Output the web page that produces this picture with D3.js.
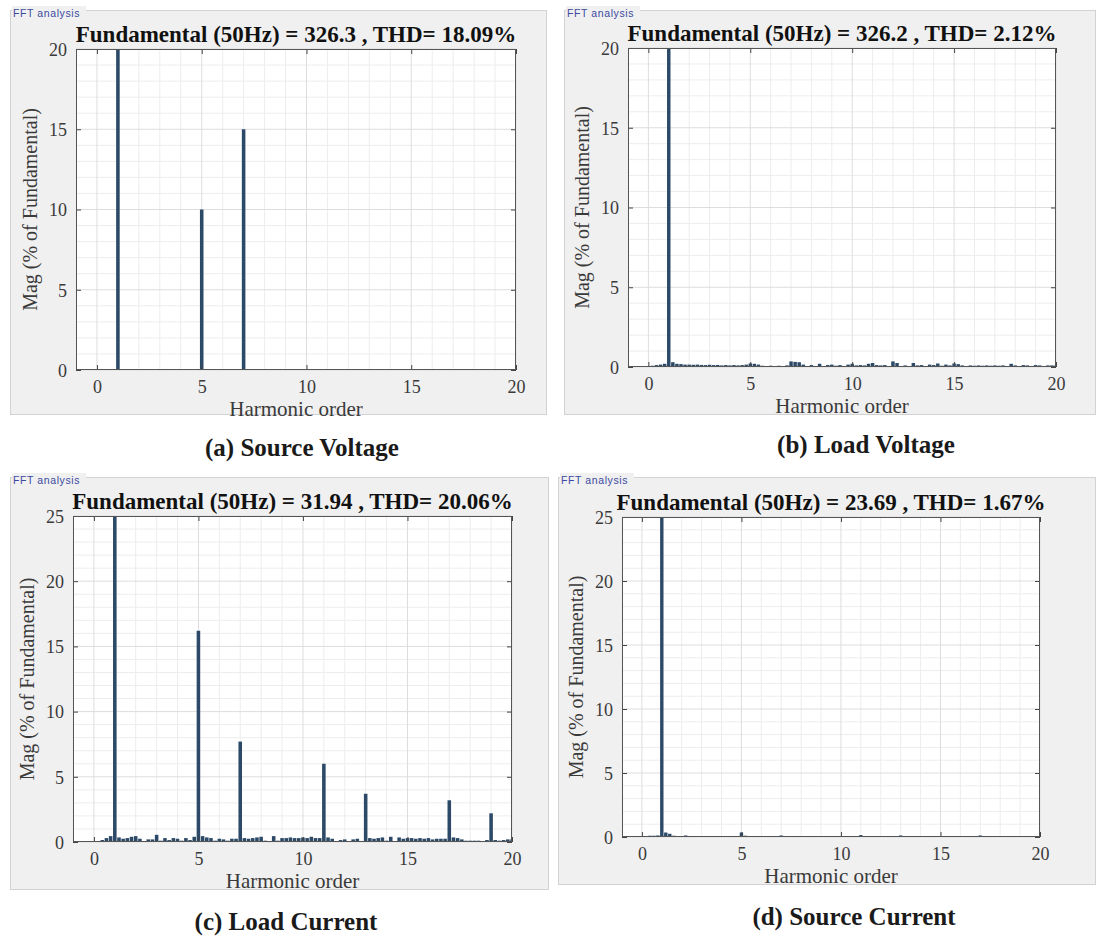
<!DOCTYPE html>
<html>
<head>
<meta charset="utf-8">
<script src="https://cdn.jsdelivr.net/npm/d3@7"></script>
<style>
  html, body { margin: 0; padding: 0; background: #ffffff; }
  svg { display: block; }
</style>
</head>
<body>
<svg id="chart" width="1096" height="936"></svg>
<script>
// ---------------- DATA ----------------
// FFT bins (harmonic order), resolution 0.2 (10 Hz bins for 50 Hz fundamental)
const harmonicBins = d3.range(0, 101).map(i => +(i * 0.2).toFixed(1));
const xTickLabels = [0, 5, 10, 15, 20];

const titles = [
  "Fundamental (50Hz) = 326.3 , THD= 18.09%",
  "Fundamental (50Hz) = 326.2 , THD= 2.12%",
  "Fundamental (50Hz) = 31.94 , THD= 20.06%",
  "Fundamental (50Hz) = 23.69 , THD= 1.67%"
];
const captions = ["(a) Source Voltage", "(b) Load Voltage", "(c) Load Current", "(d) Source Current"];
const yMaxes = [20, 20, 25, 25];
const yTickLabelsA = [0, 5, 10, 15, 20];
const yTickLabelsC = [0, 5, 10, 15, 20, 25];

// Magnitudes (% of fundamental) for bins 0, 0.2, ..., 20
const sourceVoltage = [
  0,0,0,0,0, 100,0,0,0,0,
  0,0,0,0,0, 0,0,0,0,0,
  0,0,0,0,0, 10,0,0,0,0,
  0,0,0,0,0, 15,0,0,0,0,
  0,0,0,0,0, 0,0,0,0,0,
  0,0,0,0,0, 0,0,0,0,0,
  0,0,0,0,0, 0,0,0,0,0,
  0,0,0,0,0, 0,0,0,0,0,
  0,0,0,0,0, 0,0,0,0,0,
  0,0,0,0,0, 0,0,0,0,0,
  0
];
const loadVoltage = [
  0.05,0.08,0.12,0.15,0.2, 100,0.3,0.2,0.18,0.15,
  0.15,0.14,0.15,0.13,0.12, 0.14,0.12,0.13,0.1,0.12,
  0.1,0.12,0.1,0.12,0.15, 0.22,0.2,0.15,0.08,0.06,
  0.08,0.06,0.08,0.06,0.1, 0.35,0.32,0.3,0.15,0.05,
  0.12,0.03,0.2,0.05,0.12, 0.15,0.08,0.12,0.05,0.15,
  0.2,0.1,0.12,0.1,0.2, 0.25,0.12,0.1,0.12,0.05,
  0.35,0.25,0.05,0.1,0.05, 0.25,0.1,0.12,0.05,0.15,
  0.12,0.22,0.08,0.15,0.1, 0.22,0.18,0.1,0.05,0.1,
  0.08,0.1,0.08,0.1,0.08, 0.1,0.08,0.1,0.05,0.2,
  0.1,0.05,0.12,0.1,0.05, 0.12,0.1,0.05,0.1,0.1,
  0.1
];
const loadCurrent = [
  0,0.05,0.15,0.3,0.45, 100,0.35,0.25,0.3,0.4,
  0.45,0.25,0.05,0.2,0.2, 0.55,0.1,0.3,0.15,0.3,
  0.25,0.1,0.3,0.15,0.4, 16.2,0.45,0.35,0.3,0.1,
  0.25,0.2,0.1,0.25,0.25, 7.7,0.3,0.25,0.3,0.35,
  0.4,0.1,0.05,0.45,0.1, 0.3,0.3,0.35,0.3,0.3,
  0.35,0.3,0.4,0.3,0.3, 6.0,0.35,0.25,0.05,0.15,
  0.2,0.05,0.2,0.25,0.05, 3.7,0.3,0.25,0.3,0.35,
  0.1,0.4,0.05,0.35,0.25, 0.3,0.3,0.25,0.3,0.25,
  0.3,0.2,0.25,0.25,0.25, 3.2,0.35,0.3,0.2,0.1,
  0.1,0.1,0.1,0.05,0.15, 2.2,0.15,0.1,0.15,0.2,
  0.2
];
const sourceCurrent = [
  0,0.05,0.1,0.1,0.12, 100,0.35,0.25,0.1,0.05,
  0.05,0.12,0.05,0.05,0.05, 0.05,0.05,0.05,0.05,0.05,
  0.05,0.05,0.05,0.05,0.05, 0.35,0.1,0.05,0.05,0.05,
  0.05,0.03,0.05,0.05,0.05, 0.12,0.05,0.08,0.05,0.05,
  0.05,0.03,0.05,0.03,0.05, 0.03,0.03,0.05,0.03,0.03,
  0.05,0.03,0.05,0.05,0.05, 0.15,0.05,0.05,0.05,0.05,
  0.05,0.05,0.05,0.05,0.05, 0.12,0.05,0.05,0.05,0.05,
  0.03,0.05,0.05,0.03,0.05, 0.05,0.05,0.05,0.05,0.03,
  0.05,0.05,0.05,0.05,0.05, 0.12,0.05,0.05,0.05,0.05,
  0.05,0.05,0.05,0.05,0.05, 0.05,0.05,0.05,0.05,0.05,
  0.05
];

// ---------------- LAYOUT ----------------
const layout = [
  { frame: [10, 10, 547, 415],  plot: [76, 49, 516, 370],  cap: [302, 456], values: sourceVoltage, yTicks: yTickLabelsA },
  { frame: [564, 10, 1096, 415], plot: [628, 48, 1056, 367], cap: [866, 453], values: loadVoltage,   yTicks: yTickLabelsA },
  { frame: [10, 477, 549, 890], plot: [73, 516, 512, 842],  cap: [286, 930], values: loadCurrent,   yTicks: yTickLabelsC },
  { frame: [558, 477, 1096, 885], plot: [622, 517, 1040, 837], cap: [854, 925], values: sourceCurrent, yTicks: yTickLabelsC }
];

const svg = d3.select("#chart");
const serif = "'Liberation Serif', 'Times New Roman', serif";
const barColor = "#2c4a68";

layout.forEach((p, i) => {
  const [fx0, fy0, fx1, fy1] = p.frame;
  const [px0, py0, px1, py1] = p.plot;
  const g = svg.append("g");

  // panel frame
  g.append("rect").attr("x", fx0 + 0.5).attr("y", fy0 + 0.5)
    .attr("width", fx1 - fx0 - 1).attr("height", fy1 - fy0 - 1)
    .attr("fill", "#f0f0f0").attr("stroke", "#d2d2d2");
  // panel title "FFT analysis"
  g.append("rect").attr("x", fx0 + 2).attr("y", fy0 - 4).attr("width", 74).attr("height", 10).attr("fill", "#f0f0f0");
  g.append("text").attr("x", fx0 + 3).attr("y", fy0 + 7)
    .attr("font-family", "'Liberation Sans', Arial, sans-serif").attr("font-size", 10.5)
    .attr("letter-spacing", 0.6).attr("fill", "#3a4aa0").text("FFT analysis");

  const x = d3.scaleLinear().domain([-1, 20]).range([px0, px1]);
  const y = d3.scaleLinear().domain([0, yMaxes[i]]).range([py1, py0]);

  // plot background
  g.append("rect").attr("x", px0).attr("y", py0).attr("width", px1 - px0).attr("height", py1 - py0).attr("fill", "#ffffff");

  // minor grid
  const minorX = d3.range(-1, 21).filter(v => v % 5 !== 0);
  const minorY = d3.range(0, yMaxes[i] + 1).filter(v => v % 5 !== 0);
  g.append("g").selectAll("line").data(minorX).join("line")
    .attr("x1", d => x(d)).attr("x2", d => x(d)).attr("y1", py0).attr("y2", py1)
    .attr("stroke", "#ededed").attr("stroke-width", 1);
  g.append("g").selectAll("line").data(minorY).join("line")
    .attr("x1", px0).attr("x2", px1).attr("y1", d => y(d)).attr("y2", d => y(d))
    .attr("stroke", "#ededed").attr("stroke-width", 1);
  // major grid
  g.append("g").selectAll("line").data(xTickLabels).join("line")
    .attr("x1", d => x(d)).attr("x2", d => x(d)).attr("y1", py0).attr("y2", py1)
    .attr("stroke", "#dddddd").attr("stroke-width", 1);
  g.append("g").selectAll("line").data(p.yTicks).join("line")
    .attr("x1", px0).attr("x2", px1).attr("y1", d => y(d)).attr("y2", d => y(d))
    .attr("stroke", "#dddddd").attr("stroke-width", 1);

  // bars, clipped to plot
  const clipId = "clip" + i;
  svg.append("clipPath").attr("id", clipId).append("rect")
    .attr("x", px0).attr("y", py0).attr("width", px1 - px0).attr("height", py1 - py0);
  const bw = x(0.17) - x(0);
  g.append("g").attr("clip-path", `url(#${clipId})`)
    .selectAll("rect").data(harmonicBins.map((h, k) => ({ h, v: p.values[k] })).filter(d => d.v > 0))
    .join("rect")
    .attr("x", d => x(d.h) - bw / 2).attr("width", bw)
    .attr("y", d => y(Math.min(d.v, yMaxes[i] * 1.05)))
    .attr("height", d => py1 - y(Math.min(d.v, yMaxes[i] * 1.05)))
    .attr("fill", barColor);

  // axes via d3 (ticks inside)
  const xAxis = d3.axisBottom(x).tickValues(xTickLabels).tickSizeInner(-5).tickSizeOuter(0).tickPadding(10);
  const gx = g.append("g").attr("transform", `translate(0,${py1})`).call(xAxis);
  gx.select(".domain").remove();
  gx.selectAll("line").attr("stroke", "#444");
  gx.selectAll("text").attr("font-family", serif).attr("font-size", 18).attr("fill", "#3a3a3a")
    .attr("y", 23).attr("dy", 0);
  const xAxisTop = d3.axisTop(x).tickValues(xTickLabels).tickSizeInner(-5).tickSizeOuter(0).tickFormat("");
  const gxt = g.append("g").attr("transform", `translate(0,${py0})`).call(xAxisTop);
  gxt.select(".domain").remove();
  gxt.selectAll("line").attr("stroke", "#444");

  const yAxis = d3.axisLeft(y).tickValues(p.yTicks).tickSizeInner(-5).tickSizeOuter(0).tickPadding(10);
  const gy = g.append("g").attr("transform", `translate(${px0},0)`).call(yAxis);
  gy.select(".domain").remove();
  gy.selectAll("line").attr("stroke", "#444");
  gy.selectAll("text").attr("font-family", serif).attr("font-size", 18).attr("fill", "#3a3a3a")
    .attr("x", -9).attr("dy", "0.35em");
  const yAxisR = d3.axisRight(y).tickValues(p.yTicks).tickSizeInner(-5).tickSizeOuter(0).tickFormat("");
  const gyr = g.append("g").attr("transform", `translate(${px1},0)`).call(yAxisR);
  gyr.select(".domain").remove();
  gyr.selectAll("line").attr("stroke", "#444");

  // axes box
  g.append("rect").attr("x", px0 + 0.5).attr("y", py0 + 0.5).attr("width", px1 - px0 - 1).attr("height", py1 - py0 - 1)
    .attr("fill", "none").attr("stroke", "#555").attr("stroke-width", 1);

  // title
  g.append("text").attr("x", (px0 + px1) / 2).attr("y", py0 - 7)
    .attr("text-anchor", "middle").attr("font-family", serif).attr("font-weight", "bold")
    .attr("font-size", 23).attr("fill", "#111").text(titles[i]);

  // x label
  g.append("text").attr("x", (px0 + px1) / 2).attr("y", py1 + 46)
    .attr("text-anchor", "middle").attr("font-family", serif).attr("font-size", 21)
    .attr("fill", "#3a3a3a").text("Harmonic order");

  // y label
  g.append("text").attr("transform", `translate(${px0 - 39},${(py0 + py1) / 2}) rotate(-90)`)
    .attr("text-anchor", "middle").attr("font-family", serif).attr("font-size", 20)
    .attr("fill", "#3a3a3a").text("Mag (% of Fundamental)");

  // caption
  svg.append("text").attr("x", p.cap[0]).attr("y", p.cap[1])
    .attr("text-anchor", "middle").attr("font-family", serif).attr("font-weight", "bold")
    .attr("font-size", 25).attr("fill", "#1a1a1a").text(captions[i]);
});
</script>
</body>
</html>
